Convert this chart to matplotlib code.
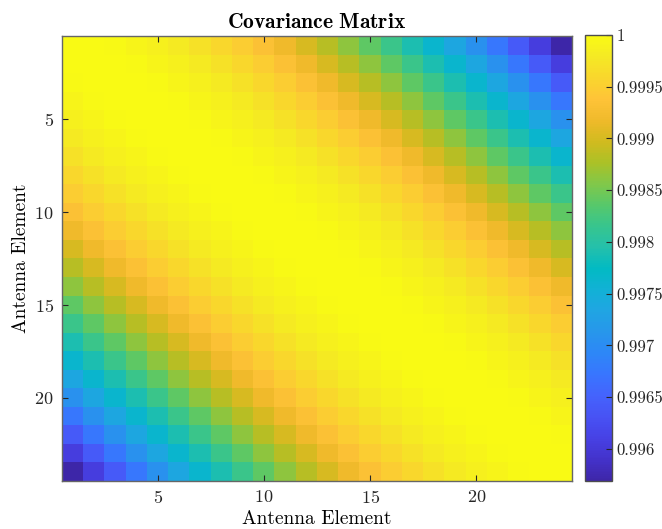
import numpy as np
import matplotlib
matplotlib.use("Agg")
import matplotlib.pyplot as plt
from matplotlib.colors import LinearSegmentedColormap

# covariance between elements depends only on their separation (lag 0..23)
lag_values = [1.00000, 0.99999, 0.99997, 0.99993, 0.99987, 0.99980,
              0.99971, 0.99960, 0.99948, 0.99934, 0.99919, 0.99901,
              0.99883, 0.99862, 0.99840, 0.99817, 0.99791, 0.99764,
              0.99736, 0.99706, 0.99674, 0.99641, 0.99606, 0.99569]
n_elements = 24
axis_ticks = [5, 10, 15, 20]
cbar_ticks = [0.996, 0.9965, 0.997, 0.9975, 0.998, 0.9985, 0.999, 0.9995, 1.0]
cbar_labels = ["0.996", "0.9965", "0.997", "0.9975", "0.998", "0.9985",
               "0.999", "0.9995", "1"]

# parula-like colormap
parula_colors = [
    [0.2422, 0.1504, 0.6603], [0.2647, 0.1978, 0.7952], [0.2783, 0.2559, 0.8991],
    [0.2810, 0.3228, 0.9579], [0.2699, 0.3892, 0.9906], [0.2206, 0.4603, 0.9973],
    [0.1786, 0.5289, 0.9682], [0.1540, 0.5902, 0.9218], [0.1248, 0.6459, 0.8883],
    [0.0689, 0.6948, 0.8394], [0.0067, 0.7296, 0.7642], [0.1408, 0.7530, 0.6715],
    [0.2161, 0.7728, 0.5562], [0.3406, 0.7847, 0.4185], [0.5044, 0.7839, 0.2893],
    [0.6720, 0.7567, 0.1513], [0.8203, 0.7324, 0.1209], [0.9393, 0.7301, 0.1679],
    [0.9970, 0.7659, 0.2199], [0.9786, 0.8386, 0.1766], [0.9597, 0.9135, 0.1423],
    [0.9769, 0.9839, 0.0805]]
parula = LinearSegmentedColormap.from_list("parula", parula_colors, N=256)

plt.rcParams["font.family"] = "serif"
plt.rcParams["font.serif"] = ["cmr10"]
plt.rcParams["mathtext.fontset"] = "cm"
plt.rcParams["axes.formatter.use_mathtext"] = True

idx = np.arange(n_elements)
cov = np.array(lag_values)[np.abs(idx[:, None] - idx[None, :])]

fig = plt.figure(figsize=(6.62, 5.29), dpi=100)
ax = fig.add_axes([62 / 662, 1 - 481 / 529, 510 / 662, 445 / 529])
cax = fig.add_axes([585 / 662, 1 - 481 / 529, 27 / 662, 446 / 529])

im = ax.imshow(cov, cmap=parula, aspect="auto", interpolation="nearest",
               extent=[0.5, n_elements + 0.5, n_elements + 0.5, 0.5],
               vmin=min(lag_values), vmax=max(lag_values))

edge = (0.15, 0.15, 0.15)
ax.set_xticks(axis_ticks)
ax.set_yticks(axis_ticks)
ax.tick_params(direction="in", top=True, right=True, length=4, width=0.8,
               labelsize=13, colors=edge, pad=6)
for s in ax.spines.values():
    s.set_color((0.4, 0.4, 0.4))
    s.set_linewidth(1.0)

ax.set_title(r"$\mathbf{Covariance\ Matrix}$", fontsize=15.5, pad=6)
ax.set_xlabel("Antenna Element", fontsize=14, labelpad=3)
ax.set_ylabel("Antenna Element", fontsize=14, labelpad=3)

cb = fig.colorbar(im, cax=cax)
cb.set_ticks(cbar_ticks)
cb.set_ticklabels(cbar_labels)
cax.tick_params(direction="in", length=4, width=0.8, labelsize=12,
                colors=edge, pad=3)
cb.outline.set_edgecolor((0.3, 0.3, 0.3))
cb.outline.set_linewidth(1.0)

fig.savefig("out.png", dpi=100)
